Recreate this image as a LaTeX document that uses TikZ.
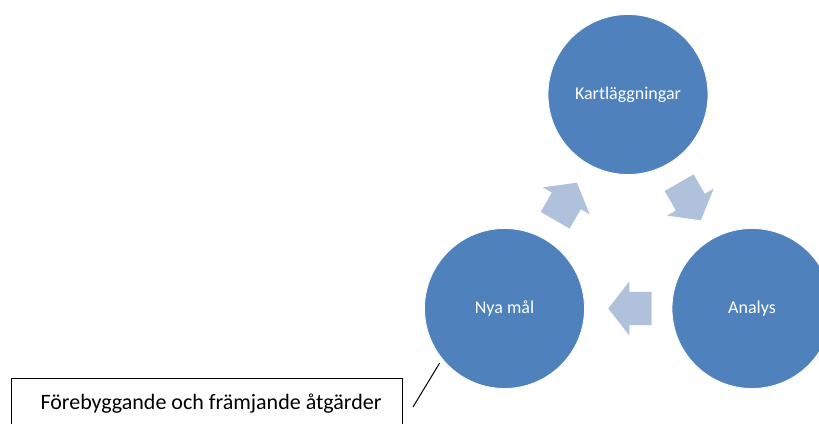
\documentclass[tikz,border=0pt]{standalone}
\usepackage{fontspec}
\setmainfont{Carlito}
\definecolor{circblue}{HTML}{4F81BD}
\definecolor{arrblue}{HTML}{B0C1DB}
\tikzset{
  stage/.style={circle, fill=circblue, draw=white, line width=0.6pt, minimum size=160*0.75pt, inner sep=0pt, text=white, font=\fontsize{13.5}{16}\selectfont},
  cyclearrow/.style={fill=arrblue, draw=none},
  notebox/.style={draw=black, line width=0.75pt, minimum width=391*0.75pt, minimum height=60*0.75pt, anchor=north west, inner sep=0pt},
}
\newcommand{\blockarrow}[3]{% center x, center y (px), angle (deg, math)
  \fill[cyclearrow, shift={(#1,#2)}, rotate=#3]
    (-21.7,-16.7) -- (0.7,-16.7) -- (0.7,-27) -- (21.7,0) -- (0.7,27) -- (0.7,16.7) -- (-21.7,16.7) -- cycle;}
\begin{document}
\begin{tikzpicture}[x=0.75pt,y=-0.75pt]
\useasboundingbox (0,0) rectangle (819,424);
\clip (0,0) rectangle (819,424);
\node[stage] (kart) at (628,94.5) {Kartläggningar};
\node[stage] (nya) at (504.5,308.5) {Nya mål};
\node[stage] (analys) at (752,308.5) {Analys};
\blockarrow{566}{201.5}{60}
\blockarrow{690}{201.5}{-60}
\blockarrow{630}{308.5}{180}
\node[notebox] (box) at (11,378) {};
\node[font=\fontsize{16.5}{19}\selectfont, anchor=base] (boxtext) at (211,409.3) {Förebyggande och främjande åtgärder};
\coordinate (lineend) at (413,407);
\draw[line width=0.75pt, shorten >=3.5pt] (lineend) -- (nya.219);
\end{tikzpicture}
\end{document}
